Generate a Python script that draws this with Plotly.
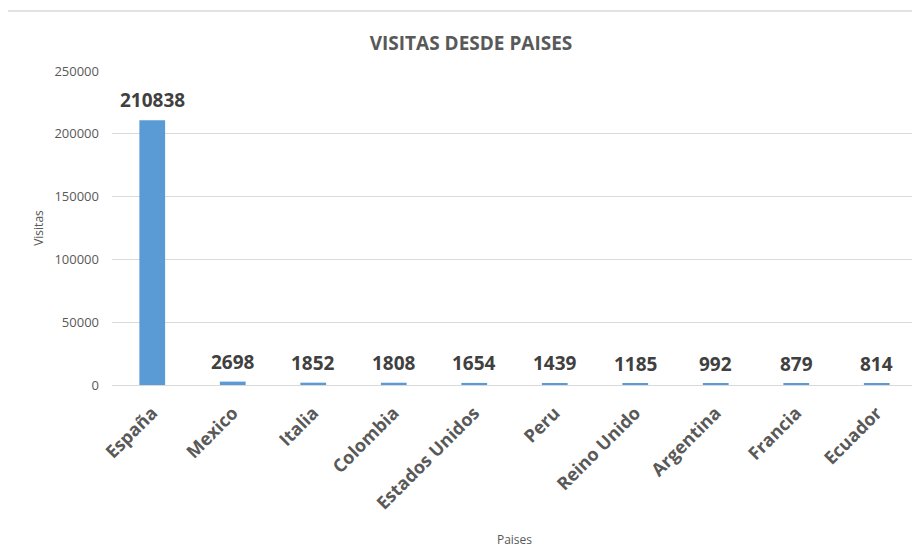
import plotly.graph_objects as go

paises = ["España", "Mexico", "Italia", "Colombia", "Estados Unidos", "Peru",
          "Reino Unido", "Argentina", "Francia", "Ecuador"]
visitas = [210838, 2698, 1852, 1808, 1654, 1439, 1185, 992, 879, 814]
y_ticks = [0, 50000, 100000, 150000, 200000, 250000]

FONT = "Open Sans"
fig = go.Figure()
fig.add_trace(go.Bar(
    x=paises, y=visitas, marker_color="#5b9bd5", marker_line_width=0,
    hoverinfo="x+y",
))

for p, v in zip(paises, visitas):
    fig.add_annotation(x=p, y=v, text="<b>%d</b>" % v, showarrow=False, yanchor="bottom",
                       yshift=5, font=dict(family=FONT, size=19, color="#404040"),
                       xref="x", yref="y")

# page has an 8px body offset; figure coordinates are window coords minus 8
fig.add_shape(type="line", xref="paper", yref="paper",
              x0=-0.13, x1=1.02, y0=1.191, y1=1.191,
              line=dict(color="#d9d9d9", width=1.5))

fig.update_layout(
    width=920, height=550,
    margin=dict(l=104, r=11, t=63, b=173),
    paper_bgcolor="white", plot_bgcolor="white",
    bargap=0.68,
    showlegend=False,
    font=dict(family=FONT, color="#595959"),
    title=dict(text="<b>VISITAS DESDE PAISES</b>", x=463 / 920, xref="container", xanchor="center",
               y=1 - 35 / 550, yref="container", yanchor="middle",
               font=dict(family=FONT, size=19, color="#595959")),
    xaxis=dict(
        tickangle=-45, tickfont=dict(family=FONT, size=18, color="#595959", weight="bold"),
        showgrid=False, showline=False, ticks="",
        ticklabelstandoff=13,
        title=dict(text="Paises", font=dict(family=FONT, size=12, color="#595959"), standoff=22),
        automargin=False,
    ),
    yaxis=dict(
        range=[0, 250000], tickvals=y_ticks, ticktext=[str(t) for t in y_ticks],
        tickfont=dict(family=FONT, size=13, color="#595959"),
        showgrid=True, gridcolor="#d9d9d9", gridwidth=1,
        zeroline=True, zerolinecolor="#d9d9d9", zerolinewidth=1,
        ticklabelstandoff=12,
        title=dict(text="Visitas", font=dict(family=FONT, size=12, color="#595959"), standoff=8),
        automargin=False,
    ),
)

fig.write_html("out.html")
